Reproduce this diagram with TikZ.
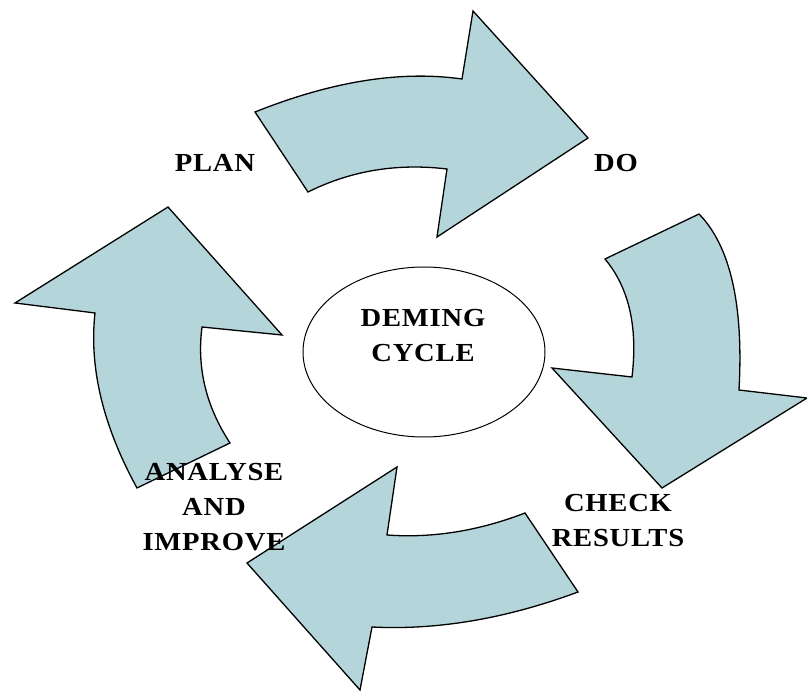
\documentclass[tikz,border=0pt]{standalone}
\usepackage{fontspec}
\usepackage{tikz}
\usetikzlibrary{shapes.geometric}

\newfontfamily\cyclefont{Liberation Serif}[LetterSpace=3, FakeStretch=1.1]
\definecolor{cyclefill}{RGB}{180,214,218}

\begin{document}
\begin{tikzpicture}[x=1pt, y=-1pt,
  piece/.style={draw=black, line width=1.3pt, fill=cyclefill, line join=miter},
  word/.style={font=\cyclefont\bfseries\fontsize{26}{35}\selectfont, align=center}]

\useasboundingbox (0,0) rectangle (807,692);

% Top arrow (plan -> do)
\draw[piece] (255,112) .. controls (331.7,81.3) and (400.7,70.3) .. (462,79) -- (473,11) -- (588,138)
  -- (437,237) -- (447,169) .. controls (397,163) and (350.7,170.7) .. (308,192) -- cycle;

% Right arrow (do -> check)
\draw[piece] (699,214) .. controls (730.3,246) and (743.7,304.7) .. (739,390) -- (807,398) -- (662,488)
  -- (552,368) -- (632,377) .. controls (638,327) and (629,287.7) .. (605,259) -- cycle;

% Bottom arrow (check -> analyse)
\draw[piece] (578,592) .. controls (506,618.7) and (437.3,630.3) .. (372,627) -- (360,690) -- (247,563)
  -- (397,467) -- (387,535) .. controls (432.3,538.3) and (478.3,531) .. (525,513) -- cycle;

% Left arrow (analyse -> plan)
\draw[piece] (137,488) .. controls (103,426) and (89,367.7) .. (95,313) -- (15,303) -- (168,207)
  -- (282,335) -- (202,327) .. controls (196.7,367.7) and (206,406.3) .. (230,443) -- cycle;

% Centre
\node[ellipse, draw=black, line width=1pt, minimum width=242pt, minimum height=170pt] (cycle) at (424,352) {};
\node[word] (deming) at (423,336) {DEMING\\CYCLE};

% Labels
\node[word] (plan) at (215,163) {PLAN};
\node[word] (do) at (616,163) {DO};
\node[word] (check) at (618,521) {CHECK\\RESULTS};
\node[word] (analyse) at (214,507) {ANALYSE\\AND\\IMPROVE};

\end{tikzpicture}
\end{document}
